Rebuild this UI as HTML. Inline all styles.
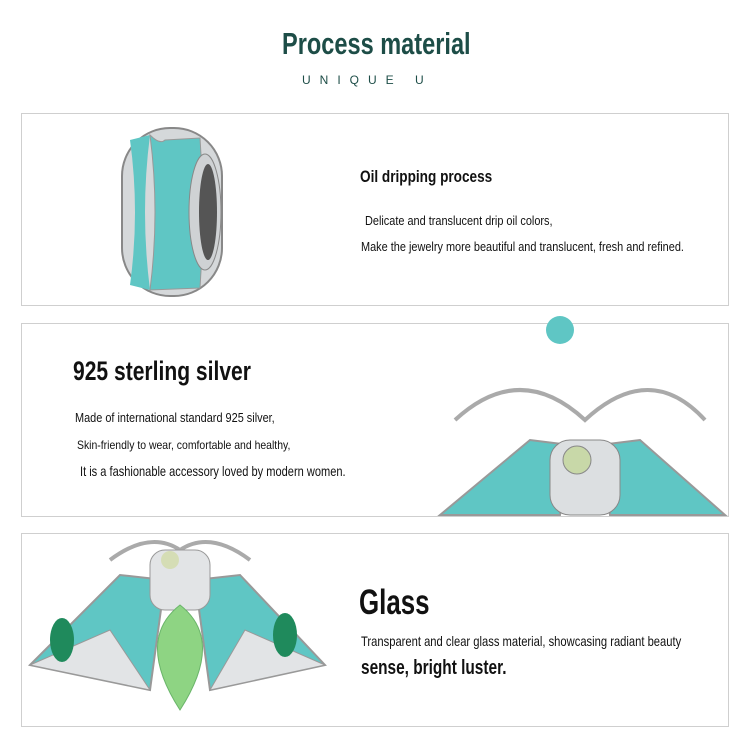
<!DOCTYPE html><html><head><style>
body{margin:0;width:750px;height:750px;background:#fff;position:relative;overflow:hidden;font-family:"Liberation Sans",sans-serif}
.box{position:absolute;left:21px;width:706px;border:1.5px solid #cfcfcf}
.t{position:absolute;white-space:nowrap;transform-origin:0 0;color:#111}
.b{font-weight:bold}
</style></head><body>
<div class="t b" style="left:282px;top:26px;font-size:31px;color:#1d4d47;transform:scaleX(0.76)">Process material</div>
<div class="t" style="left:302px;top:73px;font-size:12px;letter-spacing:9px;color:#1d4d47">UNIQUE U</div>
<div class="box" style="top:113px;height:191px"></div>
<div class="box" style="top:323px;height:192px"></div>
<div class="box" style="top:533px;height:192px"></div>
<svg style="position:absolute;left:0;top:0" width="750" height="750">
<rect x="122" y="128" width="100" height="168" rx="48" fill="#d5d8da" stroke="#888" stroke-width="2"/>
<path d="M130 140 Q140 212 130 285 L150 290 Q140 212 150 135Z" fill="#5fc6c4"/>
<path d="M150 135 Q160 145 165 140 L200 138 Q205 212 200 288 L150 290 Q160 212 150 135Z" fill="#5fc6c4" stroke="#999"/>
<ellipse cx="205" cy="212" rx="16" ry="58" fill="#cfd2d4" stroke="#888"/>
<ellipse cx="208" cy="212" rx="9" ry="48" fill="#555"/>
<circle cx="560" cy="330" r="14" fill="#5fc6c4"/>
<path d="M455 420 Q520 360 585 420 Q650 360 705 420" fill="none" stroke="#aaa" stroke-width="4"/>
<path d="M440 515 L530 440 L570 445 L560 515Z M725 515 L640 440 L600 445 L610 515Z" fill="#5fc6c4" stroke="#999" stroke-width="2"/>
<rect x="550" y="440" width="70" height="75" rx="20" fill="#dcdfe1" stroke="#888"/>
<circle cx="577" cy="460" r="14" fill="#c8d8a8" stroke="#888"/>
<path d="M110 560 Q150 530 180 550 Q210 530 250 560" fill="none" stroke="#aaa" stroke-width="4"/>
<path d="M30 665 L120 575 L165 580 L150 690Z M325 665 L240 575 L195 580 L210 690Z" fill="#5fc6c4" stroke="#999" stroke-width="2"/>
<path d="M30 665 L110 630 L150 690Z M325 665 L245 630 L210 690Z" fill="#e2e4e6" stroke="#999"/>
<ellipse cx="62" cy="640" rx="12" ry="22" fill="#1f8a5c"/>
<ellipse cx="285" cy="635" rx="12" ry="22" fill="#1f8a5c"/>
<rect x="150" y="550" width="60" height="60" rx="15" fill="#e2e4e6" stroke="#999"/>
<circle cx="170" cy="560" r="9" fill="#d5ddb5"/>
<path d="M180 605 Q225 640 180 710 Q135 640 180 605Z" fill="#8ed483" stroke="#6ab56a"/>
</svg>
<div class="t b" style="left:360px;top:167px;font-size:17px;transform:scaleX(0.8)">Oil dripping process</div>
<div class="t" style="left:365px;top:213px;font-size:13px;transform:scaleX(0.84)">Delicate and translucent drip oil colors,</div>
<div class="t" style="left:361px;top:239px;font-size:13px;transform:scaleX(0.84)">Make the jewelry more beautiful and translucent, fresh and refined.</div>
<div class="t b" style="left:73px;top:356px;font-size:27px;transform:scaleX(0.78)">925 sterling silver</div>
<div class="t" style="left:75px;top:410px;font-size:13px;transform:scaleX(0.84)">Made of international standard 925 silver,</div>
<div class="t" style="left:77px;top:438px;font-size:12px;transform:scaleX(0.87)">Skin-friendly to wear, comfortable and healthy,</div>
<div class="t" style="left:80px;top:463px;font-size:14px;transform:scaleX(0.79)">It is a fashionable accessory loved by modern women.</div>
<div class="t b" style="left:359px;top:583px;font-size:35px;transform:scaleX(0.74)">Glass</div>
<div class="t" style="left:361px;top:633px;font-size:14px;transform:scaleX(0.8)">Transparent and clear glass material, showcasing radiant beauty</div>
<div class="t b" style="left:361px;top:657px;font-size:20px;transform:scaleX(0.77)">sense, bright luster.</div>
</body></html>
